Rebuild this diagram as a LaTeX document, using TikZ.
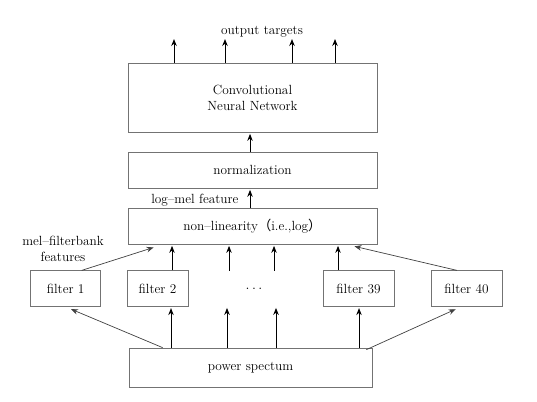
\documentclass[tikz,border=0pt]{standalone}
\usepackage{fontspec}
\newfontfamily\cjk{Noto Sans CJK SC}
\usetikzlibrary{arrows.meta,calc}
\begin{document}
\begin{tikzpicture}[x=1pt,y=1pt,
  every node/.style={font=\fontsize{13.3}{16}\selectfont},
  box/.style={draw=black!55, line width=0.7pt, inner sep=0pt, align=center},
  arr/.style={-{Stealth[length=7pt,width=5.5pt]}, line width=1pt, black, shorten >=1.5pt},
  darr/.style={-{Stealth[length=7pt,width=5.5pt]}, line width=0.7pt, black!75, shorten >=1.5pt}]
\useasboundingbox (0,0) rectangle (537,401);
% boxes
\node[box, minimum width=249pt, minimum height=69pt] (cnn) at (252.5,303.5) {Convolutional\\Neural Network};
\node[box, minimum width=249pt, minimum height=36pt] (norm) at (252.5,231) {normalization};
\node[box, minimum width=249pt, minimum height=36pt] (nl) at (252.5,175) {non--linearity{\cjk（}i.e.,log{\cjk）}};
\node[box, minimum width=70pt, minimum height=35.5pt] (f1) at (65.7,112.5) {filter 1};
\node[box, minimum width=61pt, minimum height=35.5pt] (f2) at (157.5,112.5) {filter 2};
\node[inner sep=0pt, minimum width=61pt, minimum height=35.5pt] (dots) at (254,112.5) {$\ldots$};
\node[box, minimum width=71pt, minimum height=35.5pt] (f39) at (358.5,112.5) {filter 39};
\node[box, minimum width=71pt, minimum height=35.5pt] (f40) at (466.5,112.5) {filter 40};
\node[box, minimum width=243pt, minimum height=39pt] (pw) at (250.5,33.5) {power spectum};
% labels
\node (out) at (262,369) {output targets};
\node[anchor=east] (lm) at (242,201) {log--mel feature};
\node[align=center] (mf) at (63,152) {mel--filterbank\\features};
% output arrows
\coordinate (o1) at (174,362);
\coordinate (o2) at (225,362);
\coordinate (o3) at (292,362);
\coordinate (o4) at (335,362);
\foreach \o in {o1,o2,o3,o4} \draw[arr, shorten >=0pt] (\o |- cnn.north) -- (\o);
% vertical chain
\draw[arr] (norm.north -| 250,0) -- (cnn.south -| 250,0);
\draw[arr] (nl.north -| 250,0) -- (norm.south -| 250,0);
% filters to non-linearity
\draw[darr] ($(f1.north)+(16,0)$) -- (155,154);
\draw[arr] (f2.north -| 172,0) -- (nl.south -| 172,0);
\draw[arr] (dots.north -| 229,0) -- (nl.south -| 229,0);
\draw[arr] (dots.north -| 274,0) -- (nl.south -| 274,0);
\draw[arr] (f39.north -| 338,0) -- (nl.south -| 338,0);
\draw[darr] ($(f40.north)+(-9.5,0)$) -- (353,155);
% power to filters
\draw[darr] ($(pw.north west)+(34,0)$) -- ($(f1.south)+(4,-2)$);
\draw[arr] (pw.north -| 171,0) -- (f2.south -| 171,0);
\draw[arr] (pw.north -| 227,0) -- (dots.south -| 227,0);
\draw[arr] (pw.north -| 276,0) -- (dots.south -| 276,0);
\draw[arr] (pw.north -| 359,0) -- (f39.south -| 359,0);
\draw[darr] ($(pw.north east)+(-6,-2)$) -- ($(f40.south)+(-9.5,-2)$);
\end{tikzpicture}
\end{document}
